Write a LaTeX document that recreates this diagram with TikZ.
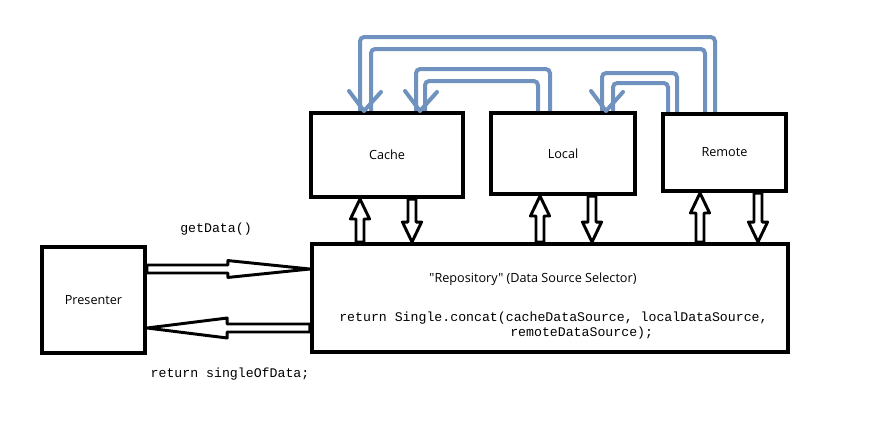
\documentclass[tikz,border=0pt]{standalone}
\usepackage{fontspec}
\newfontfamily\labelfont{Open Sans}
\newfontfamily\codefont{Liberation Mono}
\usetikzlibrary{calc}
\definecolor{feedblue}{RGB}{112,146,190}

% hollow block arrow: start, end, head length (pt), head half width (pt)
\newcommand{\hollowarrow}[4]{%
  \draw[hollow] let \p1=(#1), \p2=(#2),
    \n1={veclen(\x2-\x1,\y2-\y1)}, \n2={(\x2-\x1)/\n1}, \n3={(\y2-\y1)/\n1},
    \n4={#3}, \n5={#4} in
    ({\x1-2.85*(\n3)},{\y1+2.85*(\n2)}) --
    ({\x2-\n4*(\n2)-2.85*(\n3)},{\y2-\n4*(\n3)+2.85*(\n2)}) --
    ({\x2-\n4*(\n2)-\n5*(\n3)},{\y2-\n4*(\n3)+\n5*(\n2)}) --
    (\x2,\y2) --
    ({\x2-\n4*(\n2)+\n5*(\n3)},{\y2-\n4*(\n3)-\n5*(\n2)}) --
    ({\x2-\n4*(\n2)+2.85*(\n3)},{\y2-\n4*(\n3)-2.85*(\n2)}) --
    ({\x1+2.85*(\n3)},{\y1-2.85*(\n2)}) -- cycle;
}

\begin{document}
\begin{tikzpicture}
[x=0.025cm, y=-0.025cm,
 block/.style={draw, line width=2.85pt, inner sep=0pt, font=\labelfont\fontsize{9}{11}\selectfont},
 code/.style={inner sep=0pt, font=\codefont\fontsize{9.4}{11}\selectfont},
 hollow/.style={draw, line width=2.1pt, line join=round},
 feed/.style={draw=feedblue, line width=2.85pt, rounded corners=3pt},
 feedhead/.style={draw=feedblue, line width=2.85pt, line join=round, line cap=round}]

\useasboundingbox (0,0) rectangle (880,437);

\node[block, minimum width=3.8cm, minimum height=2.1cm] (cache) at (387,155) {Cache};
\node[block, minimum width=3.6cm, minimum height=2.025cm] (local) at (563,153.5) {Local};
\node[block, minimum width=3.075cm, minimum height=1.925cm] (remote) at (724.5,152.5) {Remote};
\node[block, minimum width=11.9cm, minimum height=2.7cm] (repo) at (550,298) {};
\node[block, minimum width=2.575cm, minimum height=2.65cm] (pres) at (93.5,300) {Presenter};

\node[font=\labelfont\fontsize{9}{11}\selectfont] (title) at (533,279) {"Repository" (Data Source Selector)};
\node[code, anchor=west] (concat1) at (339,318) {return Single.concat(cacheDataSource, localDataSource,};
\node[code, anchor=west] (concat2) at (510,333) {remoteDataSource);};
\node[code] (get) at (216,229) {getData()};
\node[code] (ret) at (230,374) {return singleOfData;};

% repository <-> sources
\foreach \src/\up/\down in {cache/360/412, local/540/592, remote/700/758}{
  \coordinate (u) at (\up,0);
  \coordinate (d) at (\down,0);
  \hollowarrow{repo.north -| u}{\src.south -| u}{14.2}{6.8}
  \hollowarrow{\src.south -| d}{repo.north -| d}{14.2}{6.8}
}

% presenter <-> repository
\coordinate (g) at (0,269);
\coordinate (r) at (0,328);
\hollowarrow{pres.east |- g}{repo.west |- g}{58.3}{6.0}
\hollowarrow{repo.west |- r}{pres.east |- r}{57}{7.1}

% fallbacks between sources
\draw[feed] (remote.north -| 715,0) |- (360,37) -- (cache.north -| 360,0);
\draw[feed] (remote.north -| 705,0) |- (371,49) -- (cache.north -| 371,0);
\draw[feed] (local.north -| 550,0) |- (416,69) -- (cache.north -| 416,0);
\draw[feed] (local.north -| 538,0) |- (425,81) -- (cache.north -| 425,0);
\draw[feed] (remote.north -| 677,0) |- (602,73) -- (local.north -| 602,0);
\draw[feed] (remote.north -| 668,0) |- (613,83) -- (local.north -| 613,0);

\foreach \tgt/\tx in {cache/364, cache/420, local/606}
  \draw[feedhead] (\tgt.north -| \tx,0) ++(-15,-20) -- (\tgt.north -| \tx,0) -- ++(17,-19);

\end{tikzpicture}
\end{document}
